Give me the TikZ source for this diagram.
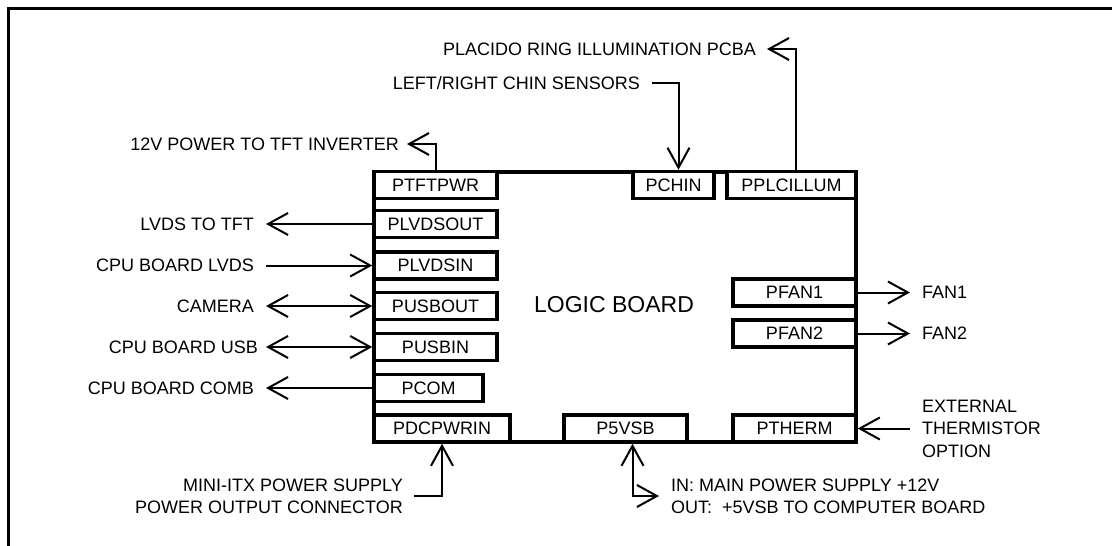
\documentclass[tikz,border=0pt]{standalone}
\usepackage{fontspec}
\setmainfont{Liberation Sans}
\usetikzlibrary{arrows.meta, positioning, calc}

\begin{document}
\begin{tikzpicture}[
    x=1pt, y=-1pt,
    font=\fontsize{18}{22}\selectfont,
    >={Straight Barb[length=20pt, width=22pt]},
    frame/.style={
        line width=3pt
    },
    board/.style={
        draw, line width=3.5pt,
        minimum width=482pt, minimum height=270pt,
        inner sep=0pt
    },
    conn/.style={
        draw, line width=3.5pt, fill=white,
        minimum height=27pt, minimum width=123pt,
        inner sep=0pt
    },
    lbl/.style={
        inner sep=0pt, font=\fontsize{18}{22.4}\selectfont
    },
    wire/.style={
        line width=2pt
    }
]
\useasboundingbox (0,0) rectangle (1112,546);

% --- outer frame, only top and left edge in view ---
\draw[frame] (8.5,546) |- (1112,8);

% --- the logic board ---
\node[board] (lb) at (615,307) {};
\node[font=\fontsize{23}{27}\selectfont] (title) at (614,305) {LOGIC BOARD};

% --- connectors on the left edge ---
\node[conn] (ptftpwr)  at (435.5,185) {PTFTPWR};
\node[conn] (plvdsout) at (435.5,224) {PLVDSOUT};
\node[conn] (plvdsin)  at (435.5,265.5) {PLVDSIN};
\node[conn] (pusbout)  at (435.5,306) {PUSBOUT};
\node[conn] (pusbin)   at (435.5,347) {PUSBIN};
\node[conn, minimum width=109pt] (pcom) at (428.5,388) {PCOM};
\node[conn, minimum width=136pt] (pdcpwrin) at (442,428.5) {PDCPWRIN};

% --- connectors on the top edge ---
\node[conn, minimum width=81pt]  (pchin)     at (673.5,185) {PCHIN};
\node[conn, minimum width=129pt] (pplcillum) at (791.5,185) {PPLCILLUM};

% --- connectors on the right and bottom edge ---
\node[conn] (pfan1)  at (794.5,292.5) {PFAN1};
\node[conn] (pfan2)  at (794.5,333.5) {PFAN2};
\node[conn] (ptherm) at (794.5,428.5) {PTHERM};
\node[conn] (p5vsb)  at (625.5,428.5) {P5VSB};

% --- reference columns for the wire ends ---
\coordinate (leftx)  at (266,0);
\coordinate (rightx) at (910,0);

% --- top wires ---
\coordinate (tfttip) at (407,144);
\draw[wire, ->] (ptftpwr.north) |- (tfttip);
\node[lbl, left=8pt of tfttip] (tftlbl) {12V POWER TO TFT INVERTER};

\coordinate (illtip) at (767,49);
\draw[wire, ->] ([xshift=4pt]pplcillum.north) |- (illtip);
\node[lbl, left=11pt of illtip] (illlbl) {PLACIDO RING ILLUMINATION PCBA};

\coordinate (chinstart) at (652,83);
\draw[wire, ->] (chinstart) -| ([xshift=5pt]pchin.north);
\node[lbl, left=12pt of chinstart] (chinlbl) {LEFT/RIGHT CHIN SENSORS};

% --- left wires ---
\draw[wire, ->] (plvdsout.west) -- (plvdsout.west -| leftx) coordinate (lvo);
\node[lbl, left=12pt of lvo] (lvolbl) {LVDS TO TFT};

\draw[wire, ->] (plvdsin.west -| leftx) coordinate (lvi) -- (plvdsin.west);
\node[lbl, left=12pt of lvi] (lvilbl) {CPU BOARD LVDS};

\draw[wire, <->] (pusbout.west -| leftx) coordinate (cam) -- (pusbout.west);
\node[lbl, left=12pt of cam] (camlbl) {CAMERA};

\draw[wire, <->] (pusbin.west -| leftx) coordinate (usb) -- (pusbin.west);
\node[lbl, left=8pt of usb] (usblbl) {CPU BOARD USB};

\draw[wire, ->] (pcom.west) -- (pcom.west -| leftx) coordinate (com);
\node[lbl, left=12pt of com] (comlbl) {CPU BOARD COMB};

% --- right wires ---
\draw[wire, ->] (pfan1.east) -- (pfan1.east -| rightx) coordinate (fan1);
\node[lbl, right=12pt of fan1] (fan1lbl) {FAN1};

\draw[wire, ->] (pfan2.east) -- (pfan2.east -| rightx) coordinate (fan2);
\node[lbl, right=12pt of fan2] (fan2lbl) {FAN2};

\draw[wire, ->] (ptherm.east -| rightx) coordinate (therm) -- (ptherm.east);
\node[lbl, right=12pt of therm, align=left] (thermlbl) {EXTERNAL\\THERMISTOR\\OPTION};

% --- bottom wires ---
\coordinate (itx) at (414,496);
\draw[wire, ->] (itx) -| (pdcpwrin.south);
\node[lbl, left=11pt of itx, align=right] (itxlbl)
  {MINI-ITX POWER SUPPLY\\POWER OUTPUT CONNECTOR};

\coordinate (vsbtip) at (659,496);
\draw[wire, <->] ([xshift=7pt]p5vsb.south) |- (vsbtip);
\node[lbl, right=12pt of vsbtip, align=left] (vsblbl)
  {IN: MAIN POWER SUPPLY +12V\\OUT:~~+5VSB TO COMPUTER BOARD};

\end{tikzpicture}
\end{document}
